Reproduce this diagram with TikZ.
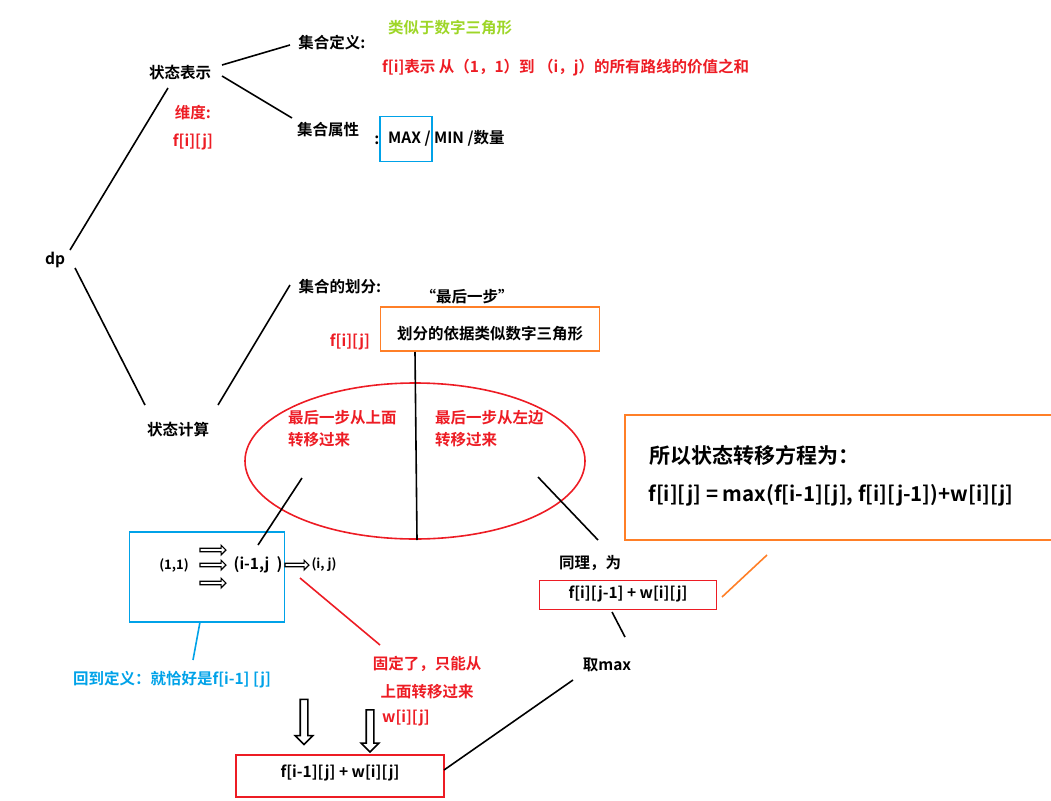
\documentclass[tikz,border=0pt]{standalone}
\usepackage{fontspec}
\setmainfont{Noto Sans CJK SC}[BoldFont={Noto Sans CJK SC Bold}]
\usetikzlibrary{shapes.arrows}
\definecolor{myred}{RGB}{237,28,36}
\definecolor{myblue}{RGB}{0,162,232}
\definecolor{myorange}{RGB}{255,127,39}
\definecolor{mygreen}{RGB}{158,214,40}
\begin{document}
\begin{tikzpicture}[x=1pt,y=-1pt,
  t/.style={font=\bfseries\fontsize{15.5}{18}\selectfont,inner sep=1pt},
  ts/.style={font=\bfseries\fontsize{13}{15}\selectfont,inner sep=1pt},
  r/.style={t,text=myred},
  ln/.style={line width=1.6pt},
  harrow/.style={single arrow,draw,line width=1.2pt,fill=white,minimum height=#1,single arrow head extend=3pt,inner sep=1.2pt},
  varrow/.style={single arrow,draw,line width=1.6pt,fill=white,shape border rotate=270,minimum height=#1,single arrow head extend=5pt,inner sep=3pt}]
\useasboundingbox (0,0) rectangle (1051,800);
\node[t] (dp) at (55,260) {dp};
\node[t] (zt) at (180,73) {状态表示};
\node[t] (js) at (178,430) {状态计算};
\node[t] (dy) at (332,43) {集合定义:};
\node[t] (sx) at (328,130) {集合属性};
\node[t] at (377,140) {:};
\node[t,text=mygreen] at (450,28) {类似于数字三角形};
\node[r,anchor=west] at (381,68) {f[i]表示 从（1，1）到 （i，j）的所有路线的价值之和};
\node[r] at (193,113) {维度:};
\node[r] at (193,142) {f[i][j]};
\node[draw=myblue,line width=1.6pt,minimum width=52pt,minimum height=45pt] (mx) at (406,139) {};
\node[t,anchor=west] at (387,138) {MAX / MIN /数量};
\draw[ln] (70,250) -- (168,88);
\draw[ln] (75,268) -- (145,405);
\draw[ln] (222,65) -- (290,45);
\draw[ln] (222,76) -- (292,118);
\draw[ln] (218,405) -- (290,285);
\node[t] (hf) at (340,287) {集合的划分:};
\node[t] at (467,297) {“最后一步”};
\node[draw=myorange,line width=1.6pt,minimum width=219pt,minimum height=44pt] (yj) at (490,329) {};
\node[t] at (490,334) {划分的依据类似数字三角形};
\node[r] at (350,342) {f[i][j]};
\draw[myred,line width=1.6pt] (415,461) ellipse (170 and 78);
\draw[ln] (415,352) -- (417,540);
\node[r,anchor=west,align=left] at (287,429) {最后一步从上面\\[4pt]转移过来};
\node[r,anchor=west,align=left] at (434,429) {最后一步从左边\\[4pt]转移过来};
\node[draw=myblue,line width=1.6pt,minimum width=155pt,minimum height=90pt] (bb) at (207,577) {};
\draw[ln] (302,478) -- (258,545);
\draw[ln] (538,477) -- (598,540);
\node[ts] (a11) at (174,565) {(1,1)};
\node[harrow=26pt] (h1) at (212,550) {};
\node[harrow=26pt] (h2) at (212,565) {};
\node[harrow=26pt] (h3) at (212,583) {};
\node[t] (im) at (258,565) {(i-1,j\ \ )};
\node[harrow=24pt] (h4) at (296,565) {};
\node[ts] (ij) at (324,565) {(i, j)};
\draw[myblue,line width=1.6pt] (200,622) -- (193,660);
\node[t,text=myblue] at (172,680) {回到定义：就恰好是f[i-1] [j]};
\draw[myred,line width=1.6pt] (300,578) -- (380,645);
\node[r] at (427,664) {固定了，只能从};
\node[r] at (427,692) {上面转移过来};
\node[r] at (406,718) {w[i][j]};
\node[varrow=45pt] (v1) at (304,720) {};
\node[varrow=42pt] (v2) at (370,729) {};
\node[draw=myred,line width=1.6pt,minimum width=208pt,minimum height=42pt] (res) at (340,776) {};
\node[t] at (340,773) {f[i-1][j] + w[i][j]};
\node[t] (qm) at (607,665) {取max};
\draw[ln] (444,770) -- (573,680);
\node[t] at (590,563) {同理，为};
\node[draw=myred,line width=1.6pt,minimum width=177pt,minimum height=29pt] (r2) at (628,595) {};
\node[t] at (628,594) {f[i][j-1] + w[i][j]};
\draw[ln] (612,612) -- (625,637);
\draw[myorange,line width=1.6pt] (722,597) -- (767,555);
\draw[myorange,line width=1.6pt] (1060,415) -- (625,415) -- (625,540) -- (1060,540);
\node[font=\bfseries\fontsize{21}{24}\selectfont,anchor=west] at (646,455) {所以状态转移方程为：};
\node[font=\bfseries\fontsize{20.5}{24}\selectfont,anchor=west] at (645,495) {f[i][j] = max(f[i-1][j], f[i][j-1])+w[i][j]};
\end{tikzpicture}
\end{document}
